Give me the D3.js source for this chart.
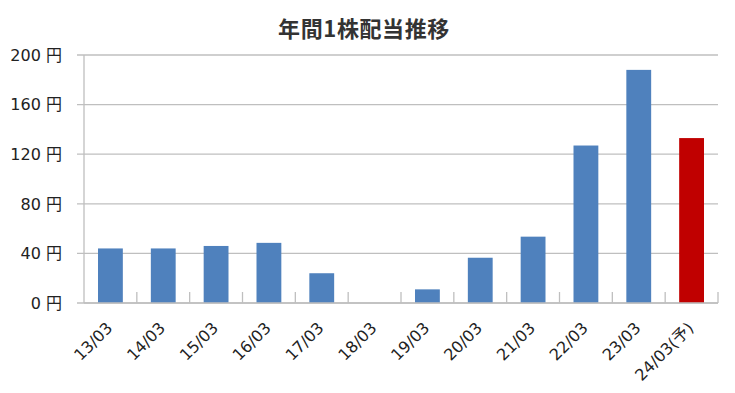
<!DOCTYPE html>
<html><head><meta charset="utf-8">
<script src="https://cdn.jsdelivr.net/npm/d3@7"></script>
<style>body{margin:0;background:#fff;}svg{display:block;}</style>
</head><body>
<svg id="c" width="735" height="393"></svg>
<script>
const categories = ["13/03","14/03","15/03","16/03","17/03","18/03","19/03","20/03","21/03","22/03","23/03","24/03(予)"];
const values = [44,44,46,48.5,24,0,11,36.5,53.5,127,188,133];
const forecast = [false,false,false,false,false,false,false,false,false,false,false,true];
const yTicks = [0,40,80,120,160,200];
const title = "年間1株配当推移";

const svg = d3.select("#c");
const m = {left:84, right:718, top:55, bottom:303};
const font = "'DejaVu Sans', 'Noto Sans CJK JP', sans-serif";
const tfont = "'Noto Sans CJK JP', sans-serif";

const x = d3.scaleBand().domain(categories).range([m.left, m.right]).paddingInner(0.53).paddingOuter(0.265);
const y = d3.scaleLinear().domain([0,200]).range([m.bottom, m.top]);

svg.append("text").attr("x", 364).attr("y", 37).attr("text-anchor","middle")
  .attr("font-family", tfont).attr("font-weight","bold").attr("font-size",22)
  .attr("letter-spacing", 0.6).attr("fill","#333").text(title);

// gridlines
svg.append("g").selectAll("line").data(yTicks).join("line")
  .attr("x1", m.left-7).attr("x2", m.right).attr("y1", d=>y(d)).attr("y2", d=>y(d))
  .attr("stroke","#bfbfbf").attr("stroke-width",1.3);

// y axis line
svg.append("line").attr("x1",m.left).attr("x2",m.left).attr("y1",m.top).attr("y2",m.bottom)
  .attr("stroke","#bfbfbf").attr("stroke-width",1.3);

// y labels
svg.append("g").selectAll("text").data(yTicks).join("text")
  .attr("x", 62).attr("y", d=>y(d)).attr("dy","0.36em").attr("text-anchor","end")
  .attr("font-family", font).attr("font-size",16).attr("fill","#222").text(d=>d+" 円");

// bars
svg.append("g").selectAll("rect").data(categories).join("rect")
  .attr("x", d=>x(d)).attr("width", x.bandwidth())
  .attr("y", (d,i)=>y(values[i])).attr("height", (d,i)=>y(0)-y(values[i]))
  .attr("fill", (d,i)=>forecast[i] ? "#c00000" : "#4f81bd");

// x axis line & ticks
const step = x.step();
svg.append("line").attr("x1",m.left).attr("x2",m.right).attr("y1",m.bottom).attr("y2",m.bottom)
  .attr("stroke","#bfbfbf").attr("stroke-width",1.3);
svg.append("g").selectAll("line").data(d3.range(1, categories.length+1)).join("line")
  .attr("x1", i=>m.left + i*step).attr("x2", i=>m.left + i*step)
  .attr("y1", m.bottom-11).attr("y2", m.bottom).attr("stroke","#bfbfbf").attr("stroke-width",1.3);

// x labels
svg.append("g").selectAll("text").data(categories).join("text")
  .attr("transform", d=>`translate(${x(d)+x.bandwidth()/2+3},${m.bottom+26}) rotate(-45)`)
  .attr("text-anchor","end")
  .attr("font-family", font).attr("font-size",16).attr("fill","#222").text(d=>d);
</script>
</body></html>
